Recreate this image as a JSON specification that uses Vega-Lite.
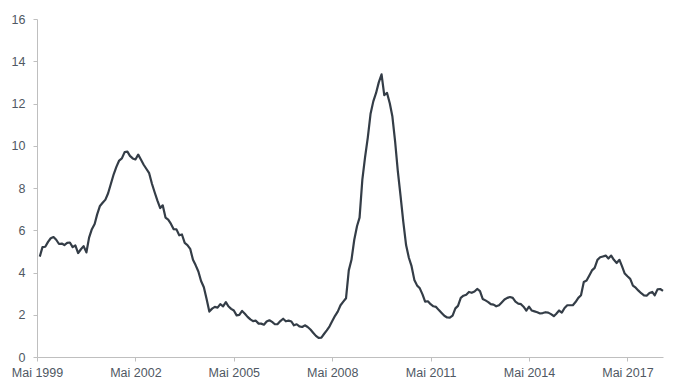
{
  "$schema": "https://vega.github.io/schema/vega-lite/v6.json",
  "autosize": "none",
  "width": 626,
  "height": 338,
  "padding": {"left": 37, "top": 19, "right": 17, "bottom": 34},
  "background": "white",
  "config": {
    "view": {"stroke": null},
    "font": "Liberation Sans",
    "axis": {
      "grid": false,
      "domainColor": "#bfbfbf",
      "tickColor": "#bfbfbf",
      "tickSize": 4,
      "labelColor": "#4f5863",
      "labelFont": "Liberation Sans",
      "labelFontSize": 12.5,
      "title": null
    }
  },
  "data": {
    "values": [
      {"date": "1999-06-01", "v": 4.75},
      {"date": "1999-07-01", "v": 5.2},
      {"date": "1999-08-01", "v": 5.22},
      {"date": "1999-09-01", "v": 5.45},
      {"date": "1999-10-01", "v": 5.62},
      {"date": "1999-11-01", "v": 5.68},
      {"date": "1999-12-01", "v": 5.55},
      {"date": "2000-01-01", "v": 5.35},
      {"date": "2000-02-01", "v": 5.37},
      {"date": "2000-03-01", "v": 5.3},
      {"date": "2000-04-01", "v": 5.4},
      {"date": "2000-05-01", "v": 5.42},
      {"date": "2000-06-01", "v": 5.2},
      {"date": "2000-07-01", "v": 5.28},
      {"date": "2000-08-01", "v": 4.92},
      {"date": "2000-09-01", "v": 5.1},
      {"date": "2000-10-01", "v": 5.25},
      {"date": "2000-11-01", "v": 4.95},
      {"date": "2000-12-01", "v": 5.65},
      {"date": "2001-01-01", "v": 6.05},
      {"date": "2001-02-01", "v": 6.3},
      {"date": "2001-03-01", "v": 6.75},
      {"date": "2001-04-01", "v": 7.15},
      {"date": "2001-05-01", "v": 7.3},
      {"date": "2001-06-01", "v": 7.45},
      {"date": "2001-07-01", "v": 7.75},
      {"date": "2001-08-01", "v": 8.2},
      {"date": "2001-09-01", "v": 8.65},
      {"date": "2001-10-01", "v": 9.0},
      {"date": "2001-11-01", "v": 9.3},
      {"date": "2001-12-01", "v": 9.4},
      {"date": "2002-01-01", "v": 9.7},
      {"date": "2002-02-01", "v": 9.72},
      {"date": "2002-03-01", "v": 9.52},
      {"date": "2002-04-01", "v": 9.4},
      {"date": "2002-05-01", "v": 9.35},
      {"date": "2002-06-01", "v": 9.58},
      {"date": "2002-07-01", "v": 9.35},
      {"date": "2002-08-01", "v": 9.1},
      {"date": "2002-09-01", "v": 8.9},
      {"date": "2002-10-01", "v": 8.7},
      {"date": "2002-11-01", "v": 8.2},
      {"date": "2002-12-01", "v": 7.8},
      {"date": "2003-01-01", "v": 7.4},
      {"date": "2003-02-01", "v": 7.05},
      {"date": "2003-03-01", "v": 7.18},
      {"date": "2003-04-01", "v": 6.6},
      {"date": "2003-05-01", "v": 6.5},
      {"date": "2003-06-01", "v": 6.3},
      {"date": "2003-07-01", "v": 6.05},
      {"date": "2003-08-01", "v": 6.04},
      {"date": "2003-09-01", "v": 5.76},
      {"date": "2003-10-01", "v": 5.8},
      {"date": "2003-11-01", "v": 5.4},
      {"date": "2003-12-01", "v": 5.3},
      {"date": "2004-01-01", "v": 5.12},
      {"date": "2004-02-01", "v": 4.6},
      {"date": "2004-03-01", "v": 4.35},
      {"date": "2004-04-01", "v": 4.05},
      {"date": "2004-05-01", "v": 3.6},
      {"date": "2004-06-01", "v": 3.3},
      {"date": "2004-07-01", "v": 2.76},
      {"date": "2004-08-01", "v": 2.15},
      {"date": "2004-09-01", "v": 2.29},
      {"date": "2004-10-01", "v": 2.37},
      {"date": "2004-11-01", "v": 2.34},
      {"date": "2004-12-01", "v": 2.5},
      {"date": "2005-01-01", "v": 2.4},
      {"date": "2005-02-01", "v": 2.6},
      {"date": "2005-03-01", "v": 2.4},
      {"date": "2005-04-01", "v": 2.28},
      {"date": "2005-05-01", "v": 2.2},
      {"date": "2005-06-01", "v": 1.97},
      {"date": "2005-07-01", "v": 1.99},
      {"date": "2005-08-01", "v": 2.18},
      {"date": "2005-09-01", "v": 2.05},
      {"date": "2005-10-01", "v": 1.9},
      {"date": "2005-11-01", "v": 1.78},
      {"date": "2005-12-01", "v": 1.7},
      {"date": "2006-01-01", "v": 1.72},
      {"date": "2006-02-01", "v": 1.58},
      {"date": "2006-03-01", "v": 1.58},
      {"date": "2006-04-01", "v": 1.53},
      {"date": "2006-05-01", "v": 1.68},
      {"date": "2006-06-01", "v": 1.74},
      {"date": "2006-07-01", "v": 1.66},
      {"date": "2006-08-01", "v": 1.55},
      {"date": "2006-09-01", "v": 1.56},
      {"date": "2006-10-01", "v": 1.7},
      {"date": "2006-11-01", "v": 1.81},
      {"date": "2006-12-01", "v": 1.69},
      {"date": "2007-01-01", "v": 1.72},
      {"date": "2007-02-01", "v": 1.68},
      {"date": "2007-03-01", "v": 1.5},
      {"date": "2007-04-01", "v": 1.55},
      {"date": "2007-05-01", "v": 1.45},
      {"date": "2007-06-01", "v": 1.42},
      {"date": "2007-07-01", "v": 1.5},
      {"date": "2007-08-01", "v": 1.42},
      {"date": "2007-09-01", "v": 1.3},
      {"date": "2007-10-01", "v": 1.15},
      {"date": "2007-11-01", "v": 1.0},
      {"date": "2007-12-01", "v": 0.9},
      {"date": "2008-01-01", "v": 0.92},
      {"date": "2008-02-01", "v": 1.1},
      {"date": "2008-03-01", "v": 1.26},
      {"date": "2008-04-01", "v": 1.45},
      {"date": "2008-05-01", "v": 1.7},
      {"date": "2008-06-01", "v": 1.95},
      {"date": "2008-07-01", "v": 2.15},
      {"date": "2008-08-01", "v": 2.45},
      {"date": "2008-09-01", "v": 2.62},
      {"date": "2008-10-01", "v": 2.78},
      {"date": "2008-11-01", "v": 4.1},
      {"date": "2008-12-01", "v": 4.6},
      {"date": "2009-01-01", "v": 5.55},
      {"date": "2009-02-01", "v": 6.2},
      {"date": "2009-03-01", "v": 6.6},
      {"date": "2009-04-01", "v": 8.4},
      {"date": "2009-05-01", "v": 9.45},
      {"date": "2009-06-01", "v": 10.4},
      {"date": "2009-07-01", "v": 11.5},
      {"date": "2009-08-01", "v": 12.1},
      {"date": "2009-09-01", "v": 12.5},
      {"date": "2009-10-01", "v": 13.0},
      {"date": "2009-11-01", "v": 13.38},
      {"date": "2009-12-01", "v": 12.4},
      {"date": "2010-01-01", "v": 12.5},
      {"date": "2010-02-01", "v": 12.0},
      {"date": "2010-03-01", "v": 11.4},
      {"date": "2010-04-01", "v": 10.2},
      {"date": "2010-05-01", "v": 8.8},
      {"date": "2010-06-01", "v": 7.6},
      {"date": "2010-07-01", "v": 6.4},
      {"date": "2010-08-01", "v": 5.3},
      {"date": "2010-09-01", "v": 4.7},
      {"date": "2010-10-01", "v": 4.3},
      {"date": "2010-11-01", "v": 3.65},
      {"date": "2010-12-01", "v": 3.39},
      {"date": "2011-01-01", "v": 3.25},
      {"date": "2011-02-01", "v": 2.95},
      {"date": "2011-03-01", "v": 2.62},
      {"date": "2011-04-01", "v": 2.64},
      {"date": "2011-05-01", "v": 2.5},
      {"date": "2011-06-01", "v": 2.4},
      {"date": "2011-07-01", "v": 2.37},
      {"date": "2011-08-01", "v": 2.22},
      {"date": "2011-09-01", "v": 2.08},
      {"date": "2011-10-01", "v": 1.95},
      {"date": "2011-11-01", "v": 1.87},
      {"date": "2011-12-01", "v": 1.86},
      {"date": "2012-01-01", "v": 1.96},
      {"date": "2012-02-01", "v": 2.3},
      {"date": "2012-03-01", "v": 2.42},
      {"date": "2012-04-01", "v": 2.8},
      {"date": "2012-05-01", "v": 2.9},
      {"date": "2012-06-01", "v": 2.95},
      {"date": "2012-07-01", "v": 3.08},
      {"date": "2012-08-01", "v": 3.04},
      {"date": "2012-09-01", "v": 3.1},
      {"date": "2012-10-01", "v": 3.22},
      {"date": "2012-11-01", "v": 3.12},
      {"date": "2012-12-01", "v": 2.75},
      {"date": "2013-01-01", "v": 2.68},
      {"date": "2013-02-01", "v": 2.6},
      {"date": "2013-03-01", "v": 2.5},
      {"date": "2013-04-01", "v": 2.48},
      {"date": "2013-05-01", "v": 2.4},
      {"date": "2013-06-01", "v": 2.45},
      {"date": "2013-07-01", "v": 2.58},
      {"date": "2013-08-01", "v": 2.72},
      {"date": "2013-09-01", "v": 2.8},
      {"date": "2013-10-01", "v": 2.84},
      {"date": "2013-11-01", "v": 2.8},
      {"date": "2013-12-01", "v": 2.62},
      {"date": "2014-01-01", "v": 2.53},
      {"date": "2014-02-01", "v": 2.5},
      {"date": "2014-03-01", "v": 2.38},
      {"date": "2014-04-01", "v": 2.2},
      {"date": "2014-05-01", "v": 2.38},
      {"date": "2014-06-01", "v": 2.2},
      {"date": "2014-07-01", "v": 2.16},
      {"date": "2014-08-01", "v": 2.12},
      {"date": "2014-09-01", "v": 2.06},
      {"date": "2014-10-01", "v": 2.08},
      {"date": "2014-11-01", "v": 2.12},
      {"date": "2014-12-01", "v": 2.1},
      {"date": "2015-01-01", "v": 2.03},
      {"date": "2015-02-01", "v": 1.93},
      {"date": "2015-03-01", "v": 2.05},
      {"date": "2015-04-01", "v": 2.2},
      {"date": "2015-05-01", "v": 2.1},
      {"date": "2015-06-01", "v": 2.32},
      {"date": "2015-07-01", "v": 2.45},
      {"date": "2015-08-01", "v": 2.45},
      {"date": "2015-09-01", "v": 2.45},
      {"date": "2015-10-01", "v": 2.6},
      {"date": "2015-11-01", "v": 2.8},
      {"date": "2015-12-01", "v": 2.92},
      {"date": "2016-01-01", "v": 3.55},
      {"date": "2016-02-01", "v": 3.62},
      {"date": "2016-03-01", "v": 3.85},
      {"date": "2016-04-01", "v": 4.1},
      {"date": "2016-05-01", "v": 4.22},
      {"date": "2016-06-01", "v": 4.6},
      {"date": "2016-07-01", "v": 4.72},
      {"date": "2016-08-01", "v": 4.76},
      {"date": "2016-09-01", "v": 4.8},
      {"date": "2016-10-01", "v": 4.66},
      {"date": "2016-11-01", "v": 4.8},
      {"date": "2016-12-01", "v": 4.6},
      {"date": "2017-01-01", "v": 4.45},
      {"date": "2017-02-01", "v": 4.6},
      {"date": "2017-03-01", "v": 4.3},
      {"date": "2017-04-01", "v": 3.95},
      {"date": "2017-05-01", "v": 3.82},
      {"date": "2017-06-01", "v": 3.7},
      {"date": "2017-07-01", "v": 3.38},
      {"date": "2017-08-01", "v": 3.28},
      {"date": "2017-09-01", "v": 3.14},
      {"date": "2017-10-01", "v": 3.02},
      {"date": "2017-11-01", "v": 2.92},
      {"date": "2017-12-01", "v": 2.9},
      {"date": "2018-01-01", "v": 3.03},
      {"date": "2018-02-01", "v": 3.08},
      {"date": "2018-03-01", "v": 2.92},
      {"date": "2018-04-01", "v": 3.2},
      {"date": "2018-05-01", "v": 3.22},
      {"date": "2018-06-01", "v": 3.13}
    ]
  },
  "mark": {"type": "line", "color": "#343d47", "strokeWidth": 2.2, "strokeJoin": "round"},
  "encoding": {
    "x": {
      "field": "date",
      "type": "temporal",
      "scale": {
        "type": "utc",
        "domain": [
          {"year": 1999, "month": 5, "date": 1, "utc": true},
          {"year": 2018, "month": 6, "date": 1, "utc": true}
        ]
      },
      "axis": {
        "values": [
          {"year": 1999, "month": 5, "date": 1, "utc": true},
          {"year": 2002, "month": 5, "date": 1, "utc": true},
          {"year": 2005, "month": 5, "date": 1, "utc": true},
          {"year": 2008, "month": 5, "date": 1, "utc": true},
          {"year": 2011, "month": 5, "date": 1, "utc": true},
          {"year": 2014, "month": 5, "date": 1, "utc": true},
          {"year": 2017, "month": 5, "date": 1, "utc": true}
        ],
        "labelExpr": "'Mai ' + utcFormat(datum.value, '%Y')",
        "labelPadding": 5,
        "labelFlush": false,
        "labelOverlap": false
      }
    },
    "y": {
      "field": "v",
      "type": "quantitative",
      "scale": {"domain": [0, 16], "nice": false},
      "axis": {
        "values": [0, 2, 4, 6, 8, 10, 12, 14, 16],
        "labelPadding": 8
      }
    }
  }
}
